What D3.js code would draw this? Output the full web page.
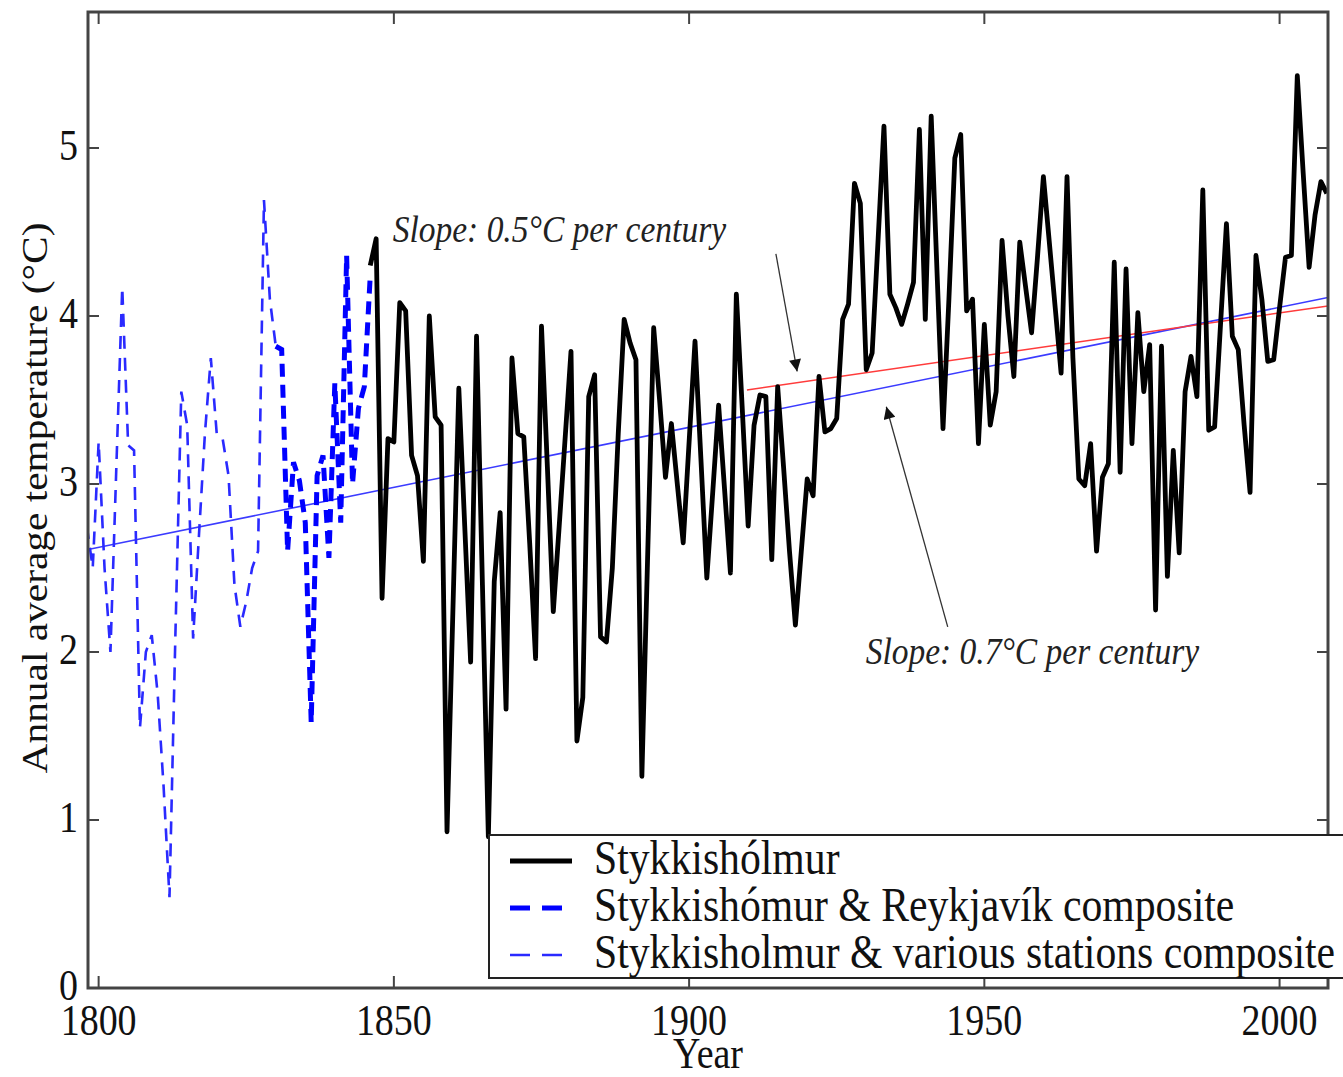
<!DOCTYPE html>
<html><head><meta charset="utf-8">
<script src="https://cdn.jsdelivr.net/npm/d3@7"></script>
<style>body{margin:0;background:#fff}</style>
</head><body>
<svg id="chart" width="1343" height="1077"></svg>
<script>
// ---------- DATA ----------
const stykkStart = 1846;
const stykkValues = [
  4.30, 4.46, 2.32, 3.27,
  3.25, 4.08, 4.03, 3.17, 3.05, 2.54, 4.00, 3.40, 3.35, 0.93,
  2.25, 3.57, 2.75, 1.94, 3.88, 2.40, 0.90, 2.42, 2.83, 1.66,
  3.75, 3.30, 3.28, 2.65, 1.96, 3.94, 3.10, 2.24, 2.75, 3.27,
  3.79, 1.47, 1.73, 3.52, 3.65, 2.09, 2.06, 2.50, 3.30, 3.98,
  3.84, 3.74, 1.26, 2.60, 3.93, 3.50, 3.04, 3.36, 3.00, 2.65,
  3.25, 3.85, 3.15, 2.44, 2.95, 3.47, 2.97, 2.47, 4.13, 3.45,
  2.75, 3.35, 3.53, 3.52, 2.55, 3.58, 3.10, 2.60, 2.16, 2.60,
  3.03, 2.93, 3.64, 3.31, 3.33, 3.39, 3.98, 4.07, 4.79, 4.67,
  3.68, 3.78, 4.45, 5.13, 4.13, 4.05, 3.95, 4.07, 4.20, 5.11,
  3.98, 5.19, 4.25, 3.33, 4.10, 4.94, 5.08, 4.03, 4.10, 3.24,
  3.95, 3.35, 3.55, 4.45, 4.00, 3.64, 4.44, 4.17, 3.90, 4.35,
  4.83, 4.44, 4.05, 3.66, 4.83, 3.75, 3.03, 2.99, 3.24, 2.60,
  3.04, 3.12, 4.32, 3.07, 4.28, 3.24, 4.02, 3.55, 3.83, 2.25,
  3.82, 2.45, 3.20, 2.59, 3.55, 3.76, 3.52, 4.75, 3.32, 3.34,
  3.95, 4.55, 3.88, 3.80, 3.35, 2.95, 4.36, 4.10, 3.73, 3.74,
  4.05, 4.35, 4.36, 5.43, 4.85, 4.29, 4.60, 4.80, 4.73
];
const reykStart = 1830;
const reykValues = [3.82, 3.80, 2.60, 3.13, 3.02, 2.77, 1.58, 3.05, 3.17, 2.56,
                    3.60, 2.77, 4.36, 3.00, 3.45, 3.58, 4.24];
const variousStart = 1798;
const variousValues = [2.75, 2.50, 3.25, 2.50, 2.00, 3.10, 4.17, 3.23, 3.20, 1.55,
                       2.00, 2.10, 1.75, 1.20, 0.54, 2.10, 3.55, 3.35, 2.08, 2.70,
                       3.30, 3.75, 3.30, 3.27, 3.05, 2.40, 2.15, 2.30, 2.50, 2.60,
                       4.69, 4.10, 3.82];
const blueTrendYears = [1798.2, 2008.2];
const blueTrendValues = [2.61, 4.11];
const redTrendYears = [1909.8, 2008.2];
const redTrendValues = [3.56, 4.06];
const xTickValues = [1800, 1850, 1900, 1950, 2000];
const yTickValues = [0, 1, 2, 3, 4, 5];
const seriesNames = ["Stykkishólmur", "Stykkishómur & Reykjavík composite",
                     "Stykkisholmur & various stations composite"];
const slopeLabels = ["Slope: 0.5°C per century", "Slope: 0.7°C per century"];
// annotation anchors (data coords): [textYear, textValue, tailYear, tailValue, tipYear, tipValue]
const annot1 = [1849.8, 4.44, 1914.7, 4.37, 1918.3, 3.67];
const annot2 = [1929.9, 1.93, 1943.8, 2.15, 1933.4, 3.46];

// ---------- SETUP ----------
const svg = d3.select("#chart");
const L = 88, R = 1328, T = 12, B = 988;
const x = d3.scaleLinear().domain([1798.2, 2008.2]).range([L, R]);
const y = d3.scaleLinear().domain([0, 976/168]).range([B, T]);
const serif = "'Liberation Serif','Times New Roman',serif";
const SY = 1.15;

svg.append("rect").attr("width",1343).attr("height",1077).attr("fill","#fff");
svg.append("defs").append("clipPath").attr("id","clip")
  .append("rect").attr("x",L).attr("y",T).attr("width",R-L).attr("height",B-T);

const mk = (start, vals) => vals.map((v,i)=>({yr:start+i, v}));
const line = d3.line().x(d=>x(d.yr)).y(d=>y(d.v));
const g = svg.append("g").attr("clip-path","url(#clip)");

// trend lines
g.append("path").datum(blueTrendYears.map((yr,i)=>({yr, v:blueTrendValues[i]})))
  .attr("d",line).attr("fill","none").attr("stroke","#3b3bff").attr("stroke-width",1.6);
g.append("path").datum(redTrendYears.map((yr,i)=>({yr, v:redTrendValues[i]})))
  .attr("d",line).attr("fill","none").attr("stroke","#ff3b3b").attr("stroke-width",1.6);

// data series
g.append("path").datum(mk(variousStart, variousValues)).attr("d",line)
  .attr("fill","none").attr("stroke","#2a2aff").attr("stroke-width",2.6)
  .attr("stroke-dasharray","13,9");
g.append("path").datum(mk(reykStart, reykValues)).attr("d",line)
  .attr("fill","none").attr("stroke","#0000ff").attr("stroke-width",5)
  .attr("stroke-dasharray","13,8");
g.append("path").datum(mk(stykkStart, stykkValues)).attr("d",line)
  .attr("fill","none").attr("stroke","#000").attr("stroke-width",4.8)
  .attr("stroke-linejoin","round");

// frame & ticks
const ax = svg.append("g");
ax.append("rect").attr("x",L).attr("y",T).attr("width",R-L).attr("height",B-T)
  .attr("fill","none").attr("stroke","#444").attr("stroke-width",3);
yTickValues.forEach(t=>{
  ax.append("line").attr("x1",L).attr("x2",L+11).attr("y1",y(t)).attr("y2",y(t))
    .attr("stroke","#444").attr("stroke-width",2);
  ax.append("line").attr("x1",R-11).attr("x2",R).attr("y1",y(t)).attr("y2",y(t))
    .attr("stroke","#444").attr("stroke-width",2);
  ax.append("text").attr("transform",`translate(78,${y(t)+12}) scale(1,${SY})`)
    .attr("text-anchor","end").attr("font-family",serif).attr("font-size",38)
    .attr("fill","#111").text(t);
});
xTickValues.forEach(t=>{
  ax.append("line").attr("x1",x(t)).attr("x2",x(t)).attr("y1",B).attr("y2",B-12)
    .attr("stroke","#444").attr("stroke-width",2);
  ax.append("line").attr("x1",x(t)).attr("x2",x(t)).attr("y1",T).attr("y2",T+12)
    .attr("stroke","#444").attr("stroke-width",2);
  ax.append("text").attr("transform",`translate(${x(t)},1035) scale(1,${SY})`)
    .attr("text-anchor","middle").attr("font-family",serif).attr("font-size",38)
    .attr("fill","#111").text(t);
});
ax.append("text").attr("transform",`translate(708,1068) scale(1,${SY})`)
  .attr("text-anchor","middle").attr("font-family",serif).attr("font-size",38)
  .attr("fill","#111").text("Year");
ax.append("text").attr("transform",`translate(47,498) rotate(-90) scale(${SY},1)`)
  .attr("text-anchor","middle").attr("font-family",serif).attr("font-size",36)
  .attr("fill","#111").text("Annual average temperature (°C)");

// annotations
svg.append("defs").append("marker").attr("id","ah").attr("viewBox","0 0 10 10")
  .attr("refX",10).attr("refY",5).attr("markerWidth",20).attr("markerHeight",12)
  .attr("markerUnits","userSpaceOnUse").attr("orient","auto")
  .append("path").attr("d","M0,0 L10,5 L0,10 Z").attr("fill","#111");
[annot1, annot2].forEach((a,i)=>{
  svg.append("line").attr("x1",x(a[2])).attr("y1",y(a[3])).attr("x2",x(a[4])).attr("y2",y(a[5]))
    .attr("stroke","#333").attr("stroke-width",1.3).attr("marker-end","url(#ah)");
  svg.append("text").attr("transform",`translate(${x(a[0])},${y(a[1])}) scale(1,${SY})`)
    .attr("font-family",serif).attr("font-style","italic").attr("font-size",33.5)
    .attr("fill","#222").text(slopeLabels[i]);
});

// legend
const lg = svg.append("g");
lg.append("rect").attr("x",489).attr("y",835).attr("width",900).attr("height",143)
  .attr("fill","#fff").attr("stroke","#222").attr("stroke-width",2);
const legStyles = [
  {c:"#000", w:4.8, d:null},
  {c:"#0000ff", w:5, d:"20,12"},
  {c:"#2a2aff", w:2.6, d:"20,12"}
];
seriesNames.forEach((n,i)=>{
  const cy = 861 + i*47;
  const s = legStyles[i];
  const ln = lg.append("line").attr("x1",510).attr("x2",572).attr("y1",cy).attr("y2",cy)
    .attr("stroke",s.c).attr("stroke-width",s.w);
  if (s.d) ln.attr("stroke-dasharray",s.d);
  lg.append("text").attr("transform",`translate(594,${cy+13}) scale(1,${SY})`)
    .attr("font-family",serif).attr("font-size",41.7).attr("fill","#111").text(n);
});
</script>
</body></html>
